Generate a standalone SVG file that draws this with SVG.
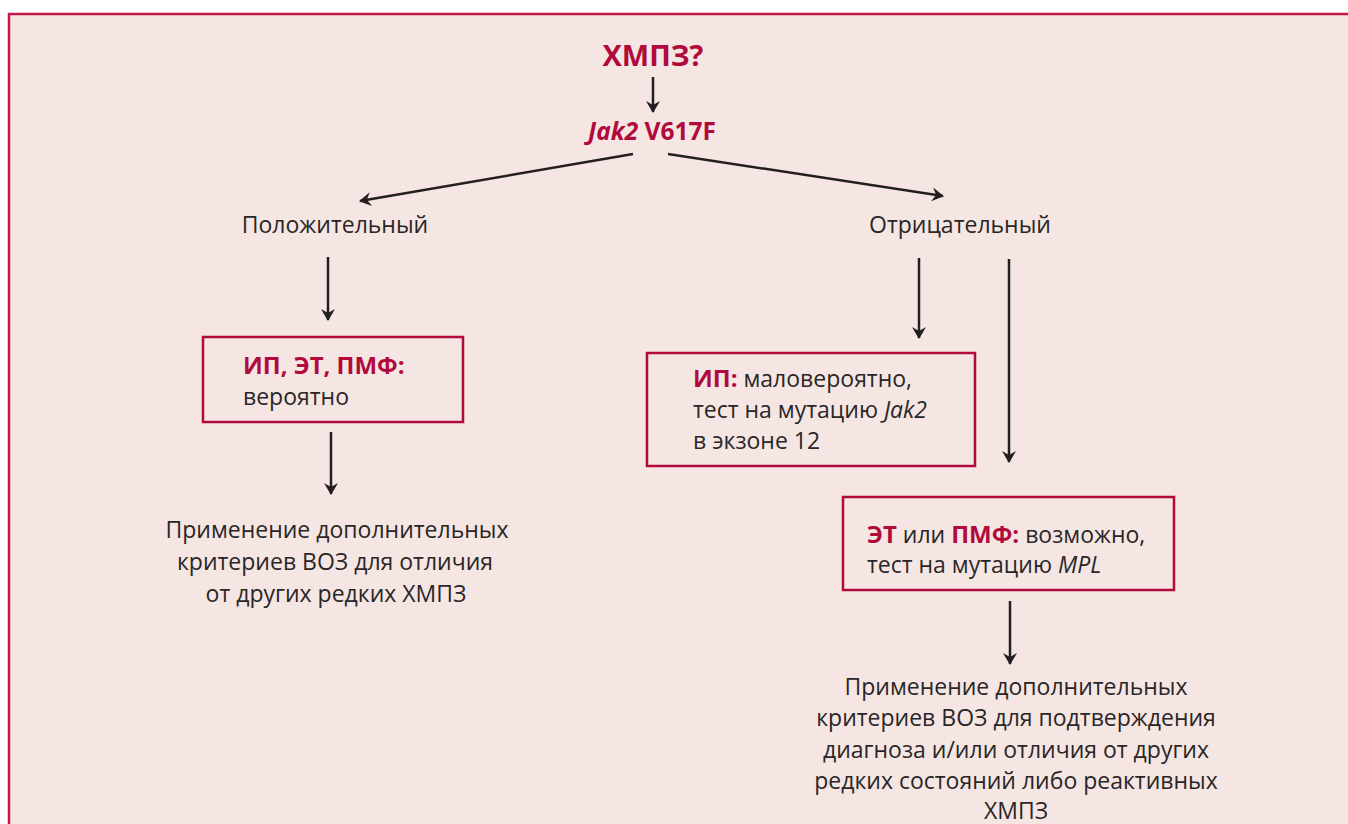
<svg xmlns="http://www.w3.org/2000/svg" width="1348" height="824" viewBox="0 0 1348 824">
<defs>
<marker id="ah" markerWidth="12" markerHeight="16" refX="11" refY="7" orient="auto" markerUnits="userSpaceOnUse">
<path d="M0,0 L12,7 L0,14 L4,7 Z" fill="#231f20"/>
</marker>
<style>
.t{font-family:"Open Sans","Noto Sans","DejaVu Sans",sans-serif;font-size:23px;fill:#2a2627}
.r{fill:#b10a3c;font-weight:700;font-size:24px}
.i{font-style:italic}
.h1{font-size:29px}
.h2{font-size:24.5px}
.box{fill:none;stroke:#b10a3c;stroke-width:2.5}
.c{stroke:#231f20;stroke-width:2.5;fill:none;marker-end:url(#ah)}
</style>
</defs>
<rect x="0" y="0" width="1348" height="824" fill="#ffffff"/>
<rect x="9" y="14" width="1360" height="830" fill="#f5e6e3" stroke="#c4184c" stroke-width="2.5"/>
<g id="connectors">
<line class="c" x1="653" y1="77" x2="653" y2="112"/>
<line class="c" x1="633" y1="154" x2="360" y2="201"/>
<line class="c" x1="668" y1="154" x2="943" y2="196"/>
<line class="c" x1="328" y1="257" x2="328" y2="320"/>
<line class="c" x1="331" y1="432" x2="331" y2="494"/>
<line class="c" x1="919" y1="258" x2="919" y2="338"/>
<line class="c" x1="1009" y1="259" x2="1009" y2="462"/>
<line class="c" x1="1010" y1="601" x2="1010" y2="664"/>
</g>
<g id="n-question">
<text class="t r h1" x="653" y="66" text-anchor="middle">ХМПЗ?</text>
</g>
<g id="n-jak2">
<text class="t r h2" x="652" y="140" text-anchor="middle"><tspan class="i">Jak2</tspan> V617F</text>
</g>
<g id="n-pos">
<text class="t" x="335" y="233" text-anchor="middle">Положительный</text>
</g>
<g id="n-neg">
<text class="t" x="960" y="233" text-anchor="middle">Отрицательный</text>
</g>
<g id="n-box1">
<rect class="box" x="203" y="337" width="260" height="85"/>
<text class="t" x="243" y="374"><tspan class="r">ИП, ЭТ, ПМФ:</tspan></text>
<text class="t" x="243" y="405">вероятно</text>
</g>
<g id="n-left-result">
<text class="t" x="337" y="538" text-anchor="middle">Применение дополнительных</text>
<text class="t" x="335" y="570" text-anchor="middle">критериев ВОЗ для отличия</text>
<text class="t" x="336" y="602" text-anchor="middle">от других редких ХМПЗ</text>
</g>
<g id="n-box2">
<rect class="box" x="647" y="353" width="328" height="113"/>
<text class="t" x="693" y="387"><tspan class="r">ИП:</tspan> маловероятно,</text>
<text class="t" x="693" y="418">тест на мутацию <tspan class="i">Jak2</tspan></text>
<text class="t" x="693" y="449">в экзоне 12</text>
</g>
<g id="n-box3">
<rect class="box" x="843" y="497" width="331" height="93"/>
<text class="t" x="867" y="543"><tspan class="r">ЭТ</tspan> или <tspan class="r">ПМФ:</tspan> возможно,</text>
<text class="t" x="867" y="573">тест на мутацию <tspan class="i">MPL</tspan></text>
</g>
<g id="n-right-result">
<text class="t" x="1016" y="695" text-anchor="middle">Применение дополнительных</text>
<text class="t" x="1016" y="726" text-anchor="middle">критериев ВОЗ для подтверждения</text>
<text class="t" x="1016" y="758" text-anchor="middle">диагноза и/или отличия от других</text>
<text class="t" x="1016" y="789" text-anchor="middle">редких состояний либо реактивных</text>
<text class="t" x="1016" y="819" text-anchor="middle">ХМПЗ</text>
</g>
</svg>
